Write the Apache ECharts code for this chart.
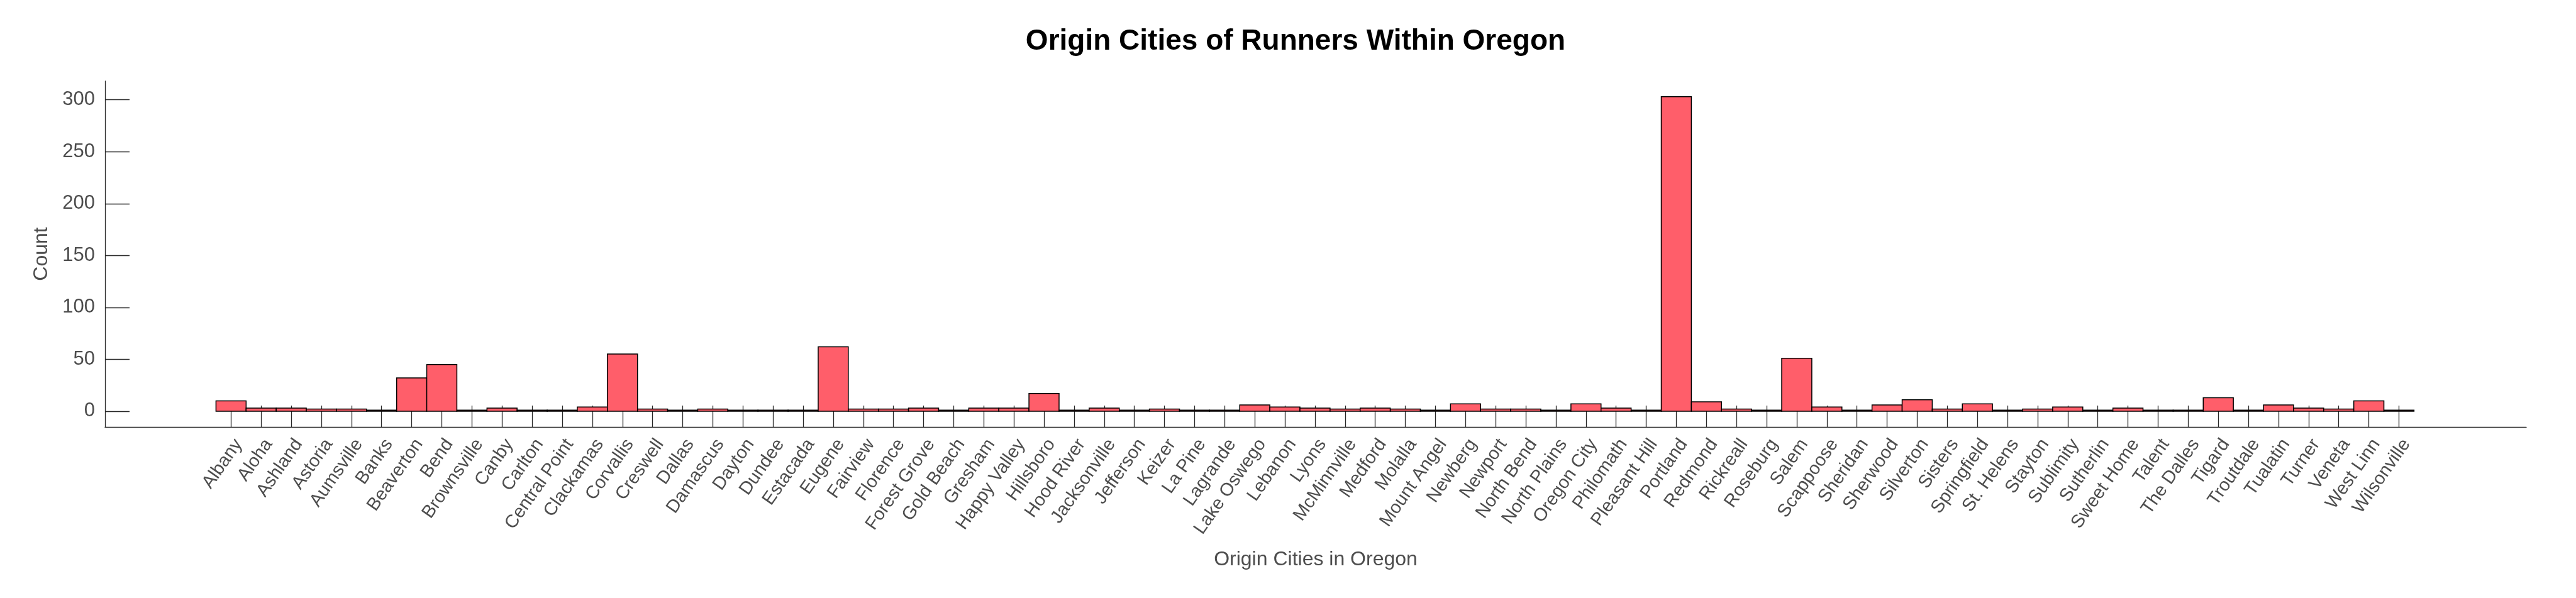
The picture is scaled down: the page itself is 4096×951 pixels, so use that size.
<!DOCTYPE html>
<html>
<head>
<meta charset="utf-8">
<script src="https://cdn.jsdelivr.net/npm/echarts@6/dist/echarts.min.js"></script>
<style>html,body{margin:0;padding:0;background:#fff;}#chart{width:4096px;height:951px;}</style>
</head>
<body>
<div id="chart"></div>
<script>
const cities = ["Albany","Aloha","Ashland","Astoria","Aumsville","Banks","Beaverton","Bend","Brownsville","Canby","Carlton","Central Point","Clackamas","Corvallis","Creswell","Dallas","Damascus","Dayton","Dundee","Estacada","Eugene","Fairview","Florence","Forest Grove","Gold Beach","Gresham","Happy Valley","Hillsboro","Hood River","Jacksonville","Jefferson","Keizer","La Pine","Lagrande","Lake Oswego","Lebanon","Lyons","McMinnville","Medford","Molalla","Mount Angel","Newberg","Newport","North Bend","North Plains","Oregon City","Philomath","Pleasant Hill","Portland","Redmond","Rickreall","Roseburg","Salem","Scappoose","Sheridan","Sherwood","Silverton","Sisters","Springfield","St. Helens","Stayton","Sublimity","Sutherlin","Sweet Home","Talent","The Dalles","Tigard","Troutdale","Tualatin","Turner","Veneta","West Linn","Wilsonville"];
const counts = [10,3,3,2,2,1,32,45,1,3,1,1,4,55,2,1,2,1,1,1,62,2,2,3,1,3,3,17,1,3,1,2,1,1,6,4,3,2,3,2,1,7,2,2,1,7,3,1,303,9,2,1,51,4,1,6,11,2,7,1,2,4,1,3,1,1,13,1,6,3,2,10,1];
const yTicks = [0,50,100,150,200,250,300];
const titleText = "Origin Cities of Runners Within Oregon";
const xName = "Origin Cities in Oregon";
const yName = "Count";

const idx = cities.map((c,i)=>i);
const data = counts.map((v,i)=>[i,v]);
const axisColor = '#262626';
const textColor = '#4d4d4d';
const font = 'Liberation Sans';

const chart = echarts.init(document.getElementById('chart'), null, {renderer:'canvas'});
chart.setOption({
  animation:false,
  backgroundColor:'#ffffff',
  title:{
    text:titleText,
    left:2055, top:38, textAlign:'center',
    textStyle:{fontFamily:font,fontWeight:'bold',fontSize:46,color:'#000'}
  },
  grid:{left:167,right:79,top:129,bottom:272,containLabel:false},
  xAxis:{
    type:'value', min:-4.185, max:76.23,
    name:xName, nameLocation:'middle', nameGap:195,
    nameTextStyle:{fontFamily:font,fontSize:32,color:textColor},
    axisLine:{show:true,onZero:false,lineStyle:{color:axisColor,width:1.3}},
    axisTick:{show:true,inside:true,length:34,customValues:idx,lineStyle:{color:axisColor,width:1.3}},
    axisLabel:{show:true,customValues:idx,rotate:55,align:'right',verticalAlign:'top',margin:14,
      fontFamily:font,fontSize:29,color:textColor,
      formatter:function(v){return cities[Math.round(v)];}},
    splitLine:{show:false}
  },
  yAxis:{
    type:'value', min:-15.2, max:318,
    name:yName, nameLocation:'middle', nameGap:85,
    nameTextStyle:{fontFamily:font,fontSize:32,color:textColor},
    axisLine:{show:true,onZero:false,lineStyle:{color:axisColor,width:1.3}},
    axisTick:{show:true,inside:true,length:39,customValues:yTicks,lineStyle:{color:axisColor,width:1.3}},
    axisLabel:{show:true,customValues:yTicks,margin:16,fontFamily:font,fontSize:31,color:textColor},
    splitLine:{show:false}
  },
  series:[{
    type:'custom',
    data:data,
    renderItem:function(params,api){
      const i = api.value(0), v = api.value(1);
      const p0 = api.coord([i-0.5, v]);
      const p1 = api.coord([i+0.5, 0]);
      return {type:'rect',
        shape:{x:p0[0],y:p0[1],width:p1[0]-p0[0],height:p1[1]-p0[1]},
        style:{fill:'#FF5E6A',stroke:'#000',lineWidth:1.5}};
    }
  }]
});
</script>
</body>
</html>
